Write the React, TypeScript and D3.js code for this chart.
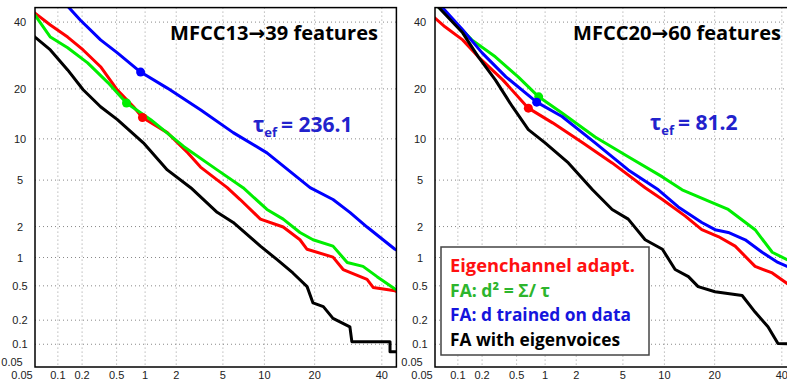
import React from "react";
import * as d3 from "d3";

// ---------- data (percent) ----------
const X_TICKS = [0.05, 0.1, 0.2, 0.5, 1, 2, 5, 10, 20, 40];
const Y_TICKS = [0.05, 0.1, 0.2, 0.5, 1, 2, 5, 10, 20, 40];
const TICK_LABELS = ["0.05", "0.1", "0.2", "0.5", "1", "2", "5", "10", "20", "40"];

// Left panel: MFCC13 -> 39 features
const L_RED_FA = [0.045, 0.05, 0.08, 0.133, 0.206, 0.33, 0.51, 0.76, 0.94, 1.65, 2.55, 3.28, 5.4, 6.76, 9.4, 13.2, 16.6, 18.2, 24.8, 27.7, 35.1, 37.1, 44.5, 46];
const L_RED_MISS = [44, 43.1, 39, 35, 30.9, 25.9, 19.7, 15.9, 13.7, 11, 8, 6.3, 4.35, 3.47, 2.34, 1.98, 1.5, 1.21, 1.01, 0.75, 0.59, 0.48, 0.44, 0.42];
const L_GREEN_FA = [0.045, 0.05, 0.08, 0.133, 0.233, 0.4, 0.64, 1.14, 2.35, 4.5, 7.1, 10.4, 13.2, 16.6, 19.6, 24.8, 28.9, 33.8, 38.4, 44.5, 46];
const L_GREEN_MISS = [43.5, 42.4, 35, 31.6, 27, 21.6, 16.7, 13.3, 8.84, 6, 4.35, 2.85, 2.34, 1.76, 1.5, 1.3, 0.89, 0.81, 0.63, 0.46, 0.45];
const L_BLUE_FA = [0.12, 0.133, 0.19, 0.33, 0.51, 0.9, 1.65, 3.3, 6, 10.4, 18.9, 24.8, 29.7, 35.1, 44.5, 46];
const L_BLUE_MISS = [48, 45.5, 40.7, 34.1, 30, 24.4, 20.2, 15.2, 11, 8, 4.35, 3.47, 2.69, 1.98, 1.21, 1.15];
const L_BLACK_FA = [0.045, 0.05, 0.08, 0.133, 0.206, 0.33, 0.51, 0.96, 1.65, 2.7, 4.5, 6, 9.4, 12.1, 15.1, 18.2, 19.6, 22.2, 24.8, 29.7, 30.3, 42.8, 42.8, 46];
const L_BLACK_MISS = [36, 35, 30.9, 25, 19.8, 15.9, 13.3, 9.4, 6, 4.35, 2.69, 2.18, 1.3, 0.95, 0.69, 0.49, 0.32, 0.29, 0.21, 0.166, 0.108, 0.108, 0.08, 0.08];

// Right panel: MFCC20 -> 60 features
const R_RED_FA = [0.045, 0.05, 0.068, 0.115, 0.18, 0.35, 0.67, 1.19, 2.29, 4.1, 7.35, 9.7, 13.6, 17, 20.9, 25.4, 31.3, 36.8, 41.8, 46];
const R_RED_MISS = [42, 41.4, 38.4, 34.1, 28.8, 22.3, 15.6, 12.7, 9.4, 6.77, 4.35, 3.47, 2.49, 1.87, 1.61, 1.3, 0.81, 0.69, 0.53, 0.46];
const R_GREEN_FA = [0.05, 0.055, 0.085, 0.15, 0.287, 0.52, 0.86, 1.47, 2.95, 5.5, 9.7, 13, 19.4, 23.5, 31.3, 36.8, 41.8, 46];
const R_GREEN_MISS = [46, 45.3, 40.7, 34.1, 28.8, 23.1, 18.1, 14.6, 10.3, 7.5, 5.3, 4.18, 3.27, 2.85, 1.87, 1.13, 0.95, 0.85];
const R_BLUE_FA = [0.055, 0.063, 0.115, 0.2, 0.38, 0.82, 1.47, 2.95, 5.5, 9.1, 12.3, 17, 20.1, 23.5, 28.3, 33.5, 38.7, 41.8, 46];
const R_BLUE_MISS = [47, 45, 37.4, 30, 23.1, 16.9, 13.9, 9.4, 6, 4.18, 3, 2.18, 1.87, 1.76, 1.5, 1.13, 0.89, 0.81, 0.74];
const R_BLACK_FA = [0.05, 0.055, 0.115, 0.18, 0.287, 0.45, 0.67, 1, 1.69, 2.8, 4.1, 5.5, 7.35, 9.7, 11.75, 14.2, 16.2, 20.1, 27.4, 31.3, 35.4, 38.7, 46];
const R_BLACK_MISS = [47, 45.3, 36.4, 28.8, 22.3, 15.9, 11.5, 9.4, 6.77, 4.18, 2.85, 2.34, 1.5, 1.21, 0.75, 0.63, 0.49, 0.43, 0.39, 0.25, 0.166, 0.102, 0.1];

// operating-point dots [FA, Miss]
const L_DOTS_FA = [0.94, 0.64, 0.9];
const L_DOTS_MISS = [13.7, 16.7, 24.4];
const R_DOTS_FA = [0.67, 0.86, 0.82];
const R_DOTS_MISS = [15.6, 18.1, 16.9];

const SERIES_NAMES = ["Eigenchannel adapt.", "FA: d² = Σ/ τ", "FA: d trained on data", "FA with eigenvoices"];
const CURVE_COLORS = ["#ff0000", "#00ee00", "#0000ff", "#000000"];
const LEGEND_COLORS = ["#ff1010", "#2db52d", "#1515dd", "#000000"];

// ---------- probit ----------
function probit(p: number): number {
  const a = [-3.969683028665376e1, 2.209460984245205e2, -2.759285104469687e2, 1.38357751867269e2, -3.066479806614716e1, 2.506628277459239];
  const b = [-5.447609879822406e1, 1.615858368580409e2, -1.556989798598866e2, 6.680131188771972e1, -1.328068155288572e1];
  const c = [-7.784894002430293e-3, -3.223964580411365e-1, -2.400758277161838, -2.549671486133513, 4.374664141464968, 2.938163982698783];
  const d = [7.784695709041462e-3, 3.224671290700398e-1, 2.445134137142996, 3.754408661907416];
  const plow = 0.02425;
  const phigh = 1 - plow;
  let q: number, r: number;
  if (p < plow) {
    q = Math.sqrt(-2 * Math.log(p));
    return (((((c[0] * q + c[1]) * q + c[2]) * q + c[3]) * q + c[4]) * q + c[5]) / ((((d[0] * q + d[1]) * q + d[2]) * q + d[3]) * q + 1);
  }
  if (p <= phigh) {
    q = p - 0.5;
    r = q * q;
    return ((((((a[0] * r + a[1]) * r + a[2]) * r + a[3]) * r + a[4]) * r + a[5]) * q) / (((((b[0] * r + b[1]) * r + b[2]) * r + b[3]) * r + b[4]) * r + 1);
  }
  q = Math.sqrt(-2 * Math.log(1 - p));
  return -(((((c[0] * q + c[1]) * q + c[2]) * q + c[3]) * q + c[4]) * q + c[5]) / ((((d[0] * q + d[1]) * q + d[2]) * q + d[3]) * q + 1);
}
const pz = (pct: number) => probit(pct / 100);

const SANS = "'Liberation Sans', Arial, sans-serif";
const BOLD = "'Open Sans', 'DejaVu Sans', sans-serif";

type Series = { fa: number[]; miss: number[]; color: string };

function Panel(props: {
  id: string;
  x0: number;
  series: Series[];
  dotsFa: number[];
  dotsMiss: number[];
  dotColors: string[];
  title: string;
  titleX: number;
  titleW: number;
  tau: string;
  tauX: number;
  tauY: number;
}) {
  const { id, x0, series, dotsFa, dotsMiss, dotColors } = props;
  const top = 7.6;
  const bottom = 367;
  const x1 = x0 + 361.4;
  const x = d3.scaleLinear().domain([pz(0.05), pz(45)]).range([x0, x1]);
  const y = d3.scaleLinear().domain([pz(0.05), pz(45)]).range([bottom, top]);
  const line = d3
    .line<[number, number]>()
    .x((d) => x(pz(d[0])))
    .y((d) => y(pz(d[1])));

  return (
    <g>
      <defs>
        <clipPath id={id}>
          <rect x={x0} y={top} width={x1 - x0} height={bottom - top} />
        </clipPath>
      </defs>
      {/* grid */}
      {X_TICKS.slice(1).map((t) => (
        <line key={"gx" + t} x1={x(pz(t))} x2={x(pz(t))} y1={top} y2={bottom} stroke="#999" strokeWidth={1} strokeDasharray="1,3" />
      ))}
      {Y_TICKS.slice(1).map((t) => (
        <line key={"gy" + t} x1={x0} x2={x1} y1={y(pz(t))} y2={y(pz(t))} stroke="#888" strokeWidth={1} strokeDasharray="1,3" />
      ))}
      {/* tick labels */}
      {Y_TICKS.map((t, i) =>
        i === 0 ? (
          <text key={"yl" + t} x={x0 - 23} y={bottom - 1} textAnchor="middle" fontFamily={SANS} fontSize={11} fill="#222">
            {TICK_LABELS[i]}
          </text>
        ) : (
          <text key={"yl" + t} x={x0 - 15} y={y(pz(t)) + 4} textAnchor="middle" fontFamily={SANS} fontSize={11} fill="#222">
            {TICK_LABELS[i]}
          </text>
        )
      )}
      {X_TICKS.map((t, i) => (
        <text key={"xl" + t} x={i === 0 ? x0 - 13 : x(pz(t))} y={379} textAnchor="middle" fontFamily={SANS} fontSize={11} fill="#222">
          {TICK_LABELS[i]}
        </text>
      ))}
      {/* curves */}
      <g clipPath={`url(#${id})`}>
        {series.map((s, i) => (
          <path
            key={"c" + i}
            d={line(s.fa.map((f, k) => [f, s.miss[k]] as [number, number])) || ""}
            fill="none"
            stroke={s.color}
            strokeWidth={3}
            strokeLinejoin="round"
          />
        ))}
        {dotsFa.map((f, i) => (
          <circle key={"d" + i} cx={x(pz(f))} cy={y(pz(dotsMiss[i]))} r={4.5} fill={dotColors[i]} />
        ))}
      </g>
      {/* frame */}
      <rect x={x0} y={top} width={x1 - x0} height={bottom - top} fill="none" stroke="#000" strokeWidth={1.5} />
      {/* title */}
      <text x={props.titleX} y={40} fontFamily={BOLD} fontWeight="bold" fontSize={20} fill="#000" textLength={props.titleW} lengthAdjust="spacingAndGlyphs">
        {props.title}
      </text>
      <text x={props.tauX} y={props.tauY} fontFamily={BOLD} fontWeight="bold" fontSize={21} fill="#2222cc">
        <tspan>τ</tspan>
        <tspan fontSize={13} dy={5}>ef</tspan>
        <tspan dy={-5} dx={4}>{"= " + props.tau}</tspan>
      </text>
    </g>
  );
}

export default function App() {
  const left: Series[] = [
    { fa: L_RED_FA, miss: L_RED_MISS, color: CURVE_COLORS[0] },
    { fa: L_GREEN_FA, miss: L_GREEN_MISS, color: CURVE_COLORS[1] },
    { fa: L_BLUE_FA, miss: L_BLUE_MISS, color: CURVE_COLORS[2] },
    { fa: L_BLACK_FA, miss: L_BLACK_MISS, color: CURVE_COLORS[3] },
  ];
  const right: Series[] = [
    { fa: R_RED_FA, miss: R_RED_MISS, color: CURVE_COLORS[0] },
    { fa: R_GREEN_FA, miss: R_GREEN_MISS, color: CURVE_COLORS[1] },
    { fa: R_BLUE_FA, miss: R_BLUE_MISS, color: CURVE_COLORS[2] },
    { fa: R_BLACK_FA, miss: R_BLACK_MISS, color: CURVE_COLORS[3] },
  ];
  const legendWidths = [185, 100, 181, 170];
  return (
    <svg width={787} height={381} style={{ position: "fixed", left: 0, top: 0, background: "#fff" }}>
      <rect x={0} y={0} width={787} height={381} fill="#fff" />
      <Panel
        id="clipL"
        x0={35}
        series={left}
        dotsFa={L_DOTS_FA}
        dotsMiss={L_DOTS_MISS}
        dotColors={[CURVE_COLORS[0], CURVE_COLORS[1], CURVE_COLORS[2]]}
        title="MFCC13→39 features"
        titleX={170}
        titleW={208}
        tau="236.1"
        tauX={253}
        tauY={132}
      />
      <Panel
        id="clipR"
        x0={435}
        series={right}
        dotsFa={R_DOTS_FA}
        dotsMiss={R_DOTS_MISS}
        dotColors={[CURVE_COLORS[0], CURVE_COLORS[1], CURVE_COLORS[2]]}
        title="MFCC20→60 features"
        titleX={573}
        titleW={208}
        tau="81.2"
        tauX={650}
        tauY={130}
      />
      {/* legend */}
      <g>
        <rect x={441} y={247} width={208} height={108} fill="#fff" stroke="#444" strokeWidth={1.5} />
        {SERIES_NAMES.map((n, i) => (
          <text
            key={n}
            x={450}
            y={272 + i * 24.5}
            fontFamily={BOLD}
            fontWeight="bold"
            fontSize={18}
            fill={LEGEND_COLORS[i]}
            textLength={legendWidths[i]}
            lengthAdjust="spacingAndGlyphs"
          >
            {n}
          </text>
        ))}
      </g>
    </svg>
  );
}
